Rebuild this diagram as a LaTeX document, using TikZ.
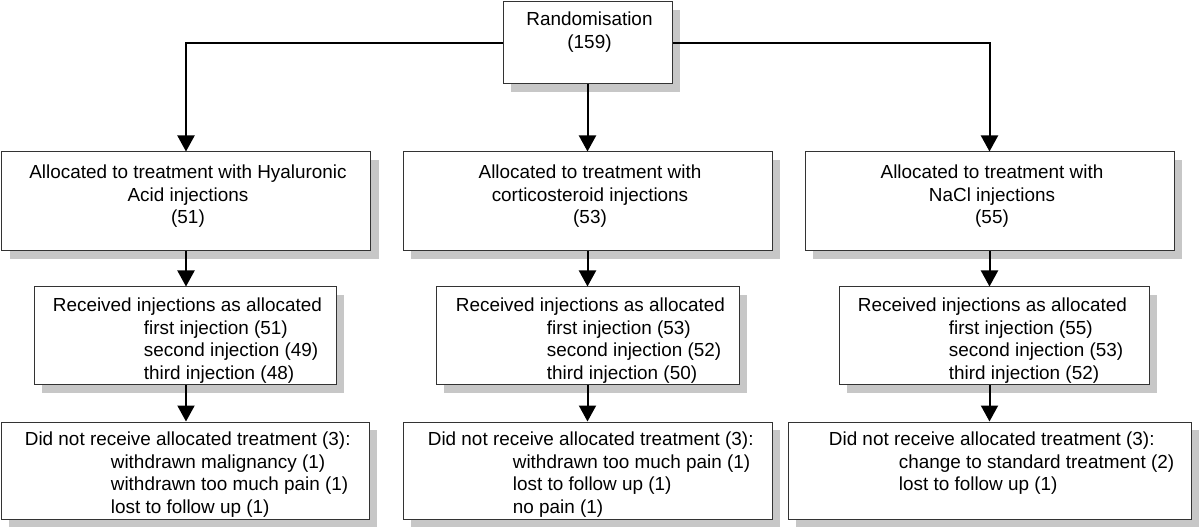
\documentclass[tikz,border=0pt]{standalone}
\usepackage{fontspec}
\setmainfont{Liberation Sans}
\usetikzlibrary{shadows,arrows.meta}
\tikzset{
  box/.style={draw=black!80, line width=0.5pt, fill=white, inner sep=0pt,
    drop shadow={shadow xshift=4pt, shadow yshift=-4pt, fill=black!22, opacity=1}},
  txt/.style={inner sep=0pt, font=\fontsize{9.45pt}{11.35pt}\selectfont},
  arr/.style={line width=1pt, -{Triangle[length=8pt,width=8.5pt]}}
}
\newcommand{\ind}[1]{\hspace*{#1pt}}

\begin{document}
\begin{tikzpicture}[x=0.5pt,y=-0.5pt]
\useasboundingbox (0,0) rectangle (1200,529);

% boxes
\node[box, minimum width=84.5pt, minimum height=41pt] (rand) at (587.5,43) {};
\foreach \n/\x in {1/186,2/587.5,3/989.5}
  \node[box, minimum width=184.5pt, minimum height=49.5pt] (alloc\n) at (\x,201.5) {};
\node[box, minimum width=151pt, minimum height=49pt] (recv1) at (185,336) {};
\node[box, minimum width=151.5pt, minimum height=49pt] (recv2) at (587.5,336) {};
\node[box, minimum width=155pt, minimum height=49pt] (recv3) at (994,336) {};
\node[box, minimum width=184pt, minimum height=48.5pt] (drop1) at (185,470.5) {};
\node[box, minimum width=184.5pt, minimum height=48.5pt] (drop2) at (587.5,470.5) {};
\node[box, minimum width=201.5pt, minimum height=48.5pt] (drop3) at (989.5,470.5) {};

% texts
\node[txt, anchor=north, align=center] (randt) at ([shift={(2,10)}]rand.north) {Randomisation\\(159)};
\node[txt, anchor=north, align=center] (alloc1t) at ([shift={(2,13)}]alloc1.north)
  {Allocated to treatment with Hyaluronic\\Acid injections\\(51)};
\node[txt, anchor=north, align=center] (alloc2t) at ([shift={(2.5,13)}]alloc2.north)
  {Allocated to treatment with\\corticosteroid injections\\(53)};
\node[txt, anchor=north, align=center] (alloc3t) at ([shift={(2.5,13)}]alloc3.north)
  {Allocated to treatment with\\NaCl injections\\(55)};

\node[txt, anchor=north west, align=left] (recv1t) at ([shift={(19,11)}]recv1.north west)
  {Received injections as allocated\\\ind{45.5}first injection (51)\\\ind{45.5}second injection (49)\\\ind{45.5}third injection (48)};
\node[txt, anchor=north west, align=left] (recv2t) at ([shift={(20,11)}]recv2.north west)
  {Received injections as allocated\\\ind{45.5}first injection (53)\\\ind{45.5}second injection (52)\\\ind{45.5}third injection (50)};
\node[txt, anchor=north west, align=left] (recv3t) at ([shift={(19,11)}]recv3.north west)
  {Received injections as allocated\\\ind{45.5}first injection (55)\\\ind{45.5}second injection (53)\\\ind{45.5}third injection (52)};

\node[txt, anchor=north west, align=left] (drop1t) at ([shift={(24,10)}]drop1.north west)
  {Did not receive allocated treatment (3):\\\ind{43}withdrawn malignancy (1)\\\ind{43}withdrawn too much pain (1)\\\ind{43}lost to follow up (1)};
\node[txt, anchor=north west, align=left] (drop2t) at ([shift={(25,10)}]drop2.north west)
  {Did not receive allocated treatment (3):\\\ind{42.5}withdrawn too much pain (1)\\\ind{42.5}lost to follow up (1)\\\ind{42.5}no pain (1)};
\node[txt, anchor=north west, align=left] (drop3t) at ([shift={(41,10)}]drop3.north west)
  {Did not receive allocated treatment (3):\\\ind{35}change to standard treatment (2)\\\ind{35}lost to follow up (1)};

% arrows
\draw[arr] (rand.west) -| (alloc1.north);
\draw[arr] (rand.south) -- (alloc2.north);
\draw[arr] (rand.east) -| (alloc3.north);
\foreach \n in {1,2,3} {
  \draw[arr] (alloc\n.south) -- (alloc\n.south |- recv\n.north);
  \draw[arr] (alloc\n.south |- recv\n.south) -- (alloc\n.south |- drop\n.north);
}
\end{tikzpicture}
\end{document}
